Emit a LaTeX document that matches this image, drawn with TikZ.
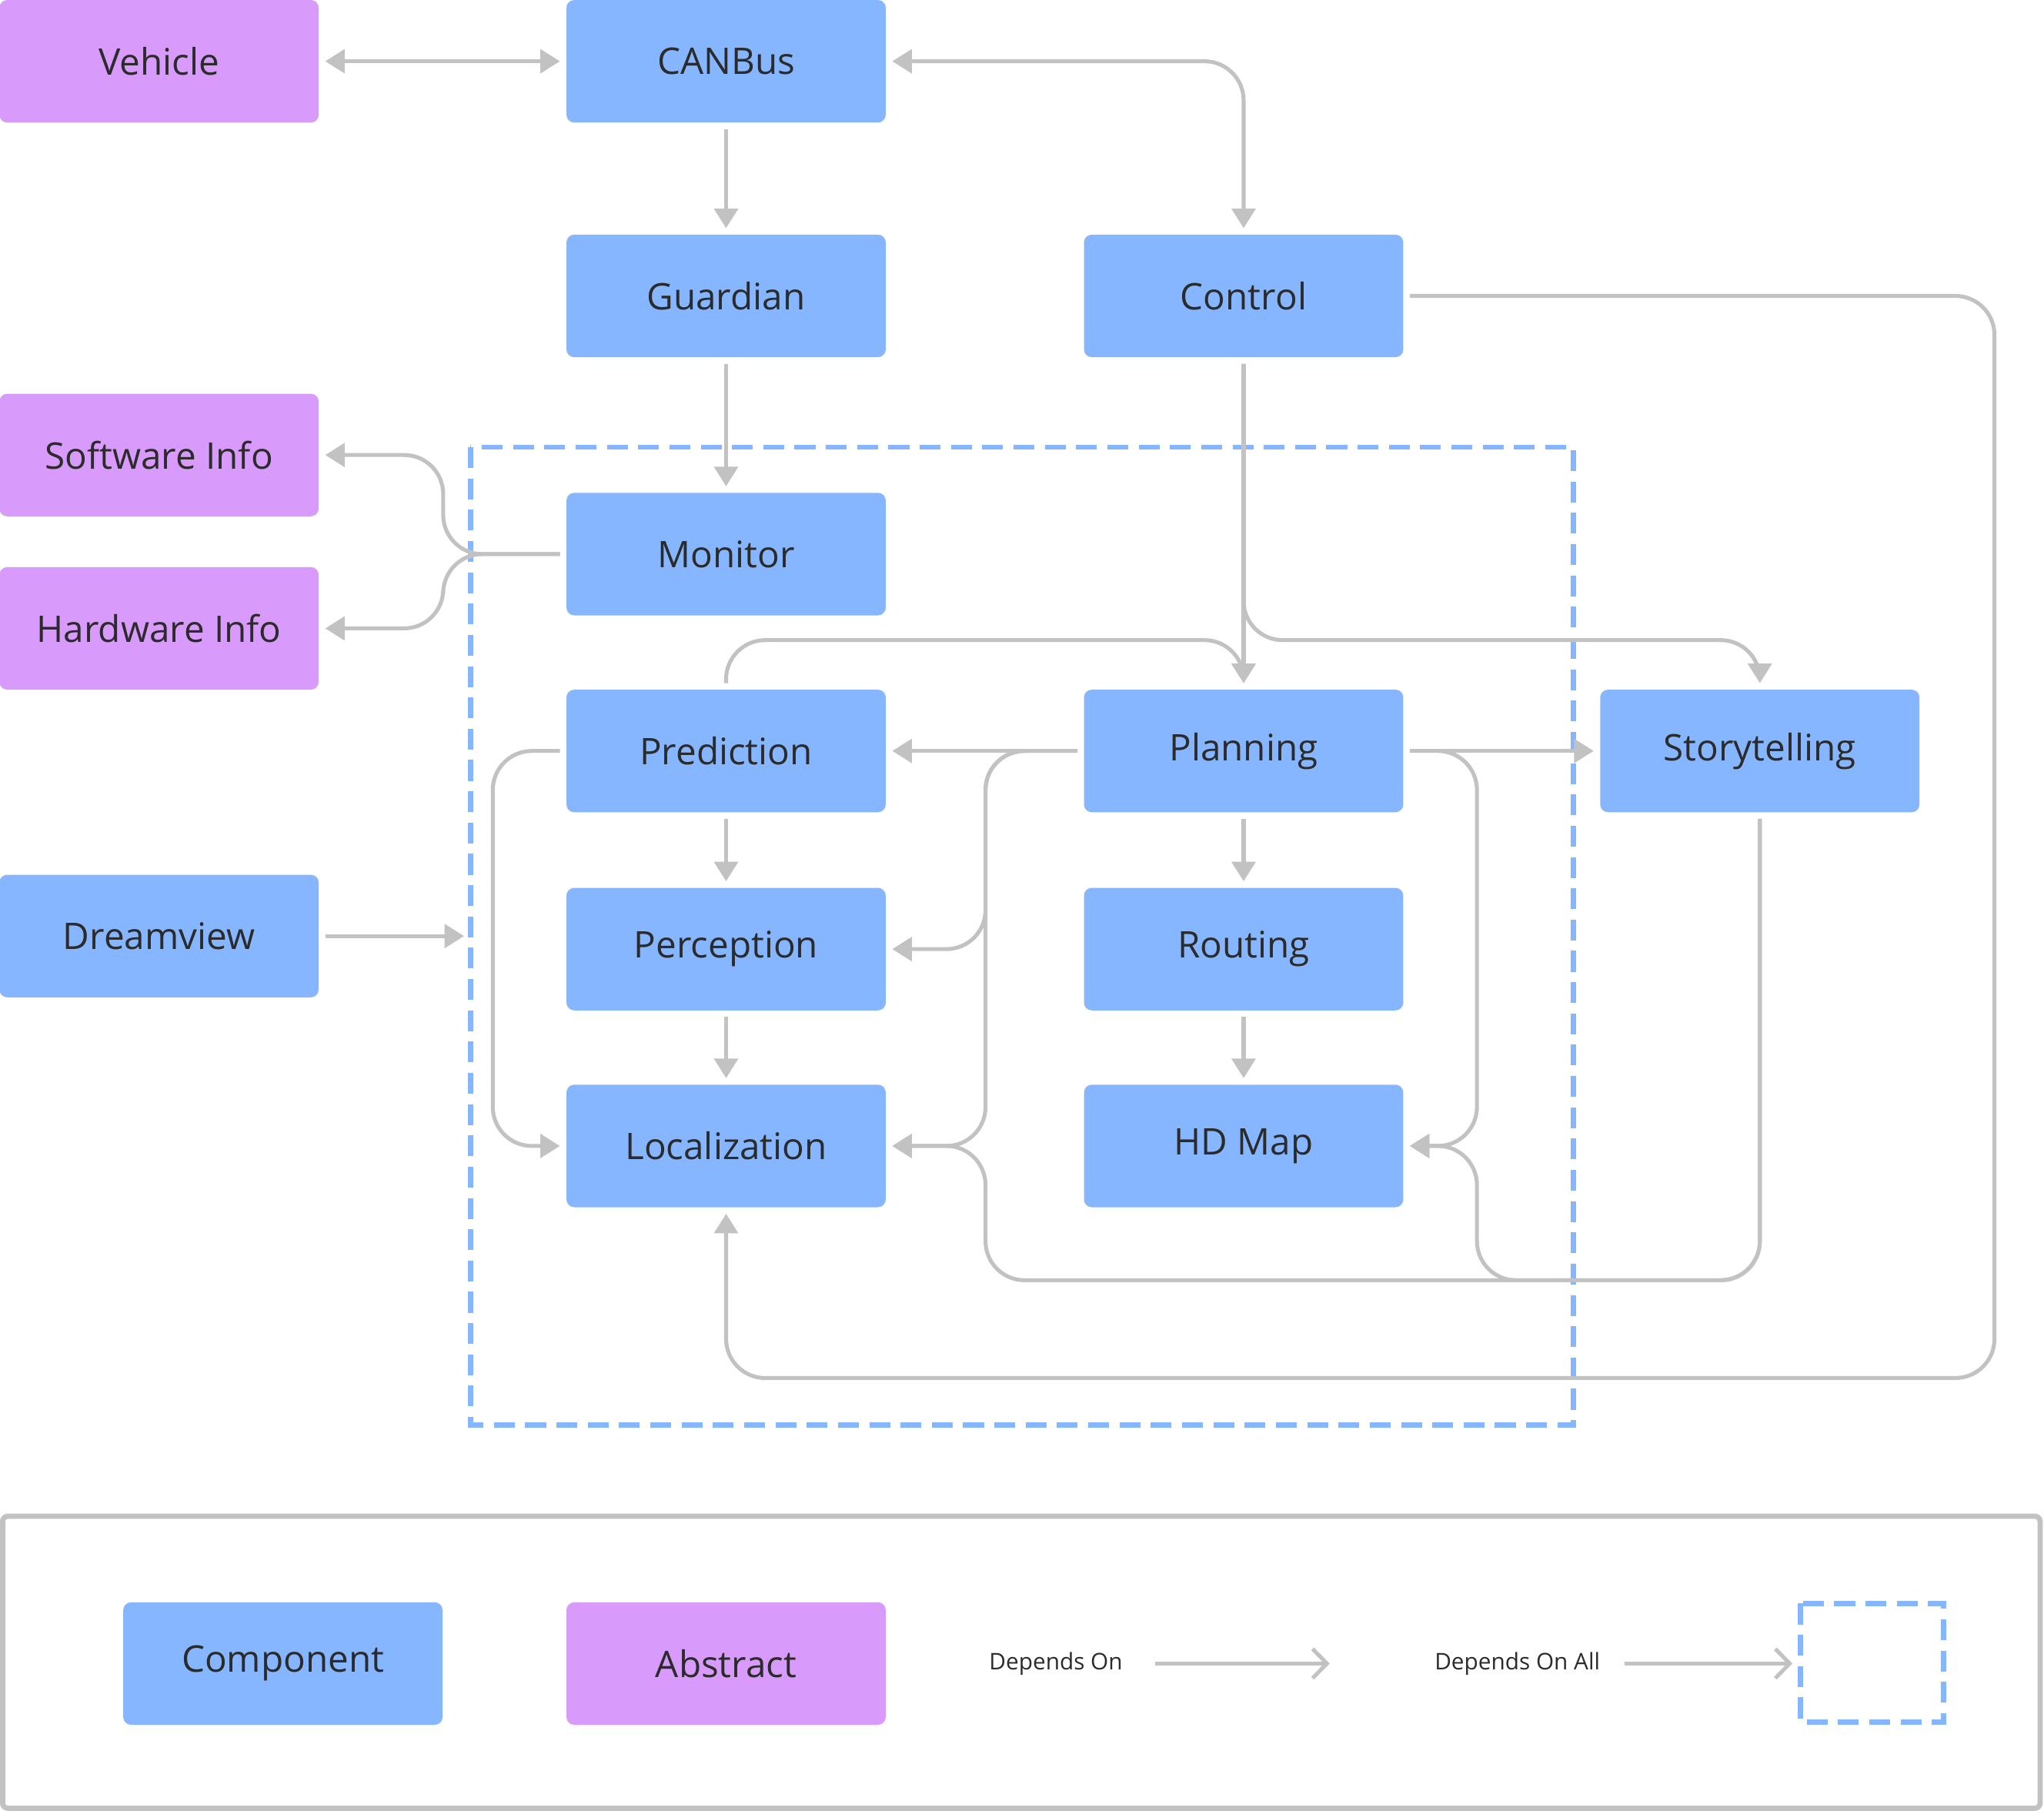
\documentclass[tikz,border=0pt]{standalone}
\usepackage{fontspec}
\setmainfont{Open Sans}
\usetikzlibrary{arrows.meta}
\definecolor{comp}{HTML}{86B6FF}
\definecolor{abst}{HTML}{D99BFB}
\definecolor{link}{HTML}{C2C2C2}
\definecolor{ink}{HTML}{2B2B2B}
\tikzset{
  box/.style={rounded corners=0.12cm, minimum width=4.9cm, minimum height=1.88cm,
    outer sep=0.1cm, text=ink, font=\fontsize{16}{19}\selectfont},
  component/.style={box, fill=comp},
  abstract/.style={box, fill=abst},
  dep/.style={draw=link, line width=0.06cm, rounded corners=0.6cm,
    -{Triangle[width=0.36cm,length=0.3cm]}},
  both/.style={{Triangle[width=0.36cm,length=0.3cm]}-{Triangle[width=0.36cm,length=0.3cm]}},
  legarrow/.style={draw=link, line width=0.06cm, -{Straight Barb[width=0.45cm,length=0.22cm]}},
  group/.style={draw=comp, line width=0.08cm, dash pattern=on 0.32cm off 0.16cm},
}
\begin{document}
\begin{tikzpicture}[x=0.02cm, y=-0.02cm]
  \useasboundingbox (0,0) rectangle (1568,1389);

  \draw[group] (361,343) rectangle (1207,1093);
  \coordinate (allwest) at (361,718);

  \node[abstract] (veh) at (122,47) {Vehicle};
  \node[component] (can) at (557,47) {CANBus};
  \node[component] (gua) at (557,227) {Guardian};
  \node[component] (ctl) at (954,227) {Control};
  \node[abstract] (sw) at (122,349) {Software Info};
  \node[abstract] (hw) at (122,482) {Hardware Info};
  \node[component] (mon) at (557,425) {Monitor};
  \node[component] (pre) at (557,576) {Prediction};
  \node[component] (pla) at (954,576) {Planning};
  \node[component] (sto) at (1350,576) {Storytelling};
  \node[component] (dre) at (122,718) {Dreamview};
  \node[component] (per) at (557,728) {Perception};
  \node[component] (rou) at (954,728) {Routing};
  \node[component] (loc) at (557,879) {Localization};
  \node[component] (hdm) at (954,879) {HD Map};

  \draw[dep,both] (veh) -- (can);
  \draw[dep,both] (can.east) -| (ctl.north);
  \draw[dep] (can) -- (gua);
  \draw[dep] (gua) -- (mon);
  \draw[dep] (mon.west) -- (340,425) |- (sw.east);
  \draw[dep] (mon.west) -- (340,425) |- (hw.east);
  \draw[dep] (ctl) -- (pla);
  \draw[dep] (ctl.south) -- (954,491) -| (sto.north);
  \draw[dep] (pre.north) |- (954,491) -- (pla.north);
  \draw[dep] (pla) -- (pre);
  \draw[dep] (pla.west) -- (756,576) |- (per.east);
  \draw[dep] (pla.west) -- (756,576) |- (loc.east);
  \draw[dep] (pla) -- (sto);
  \draw[dep] (pla.east) -- (1133,576) |- (hdm.east);
  \draw[dep] (pre) -- (per);
  \draw[dep] (per) -- (loc);
  \draw[dep] (pla) -- (rou);
  \draw[dep] (rou) -- (hdm);
  \draw[dep] (pre.west) -- (378,576) |- (loc.west);
  \draw[dep, shorten >=0.1cm] (dre.east) -- (allwest);
  \draw[dep] (sto.south) -- (1350,982) -- (756,982) |- (loc.east);
  \draw[dep] (sto.south) -- (1350,982) -- (1133,982) |- (hdm.east);
  \draw[dep] (ctl.east) -| (1530,1057) -| (loc.south);

  % legend
  \draw[link, line width=0.08cm, rounded corners=0.08cm] (2,1163) rectangle (1565,1387);
  \node[component] (lcomp) at (217,1276) {Component};
  \node[abstract] (labs) at (557,1276) {Abstract};
  \node[text=ink, font=\fontsize{10}{12}\selectfont] (ldep) at (810,1276) {Depends On};
  \coordinate (ldepend) at (1020,1276);
  \draw[legarrow] (886,1276) -- (ldepend);
  \node[text=ink, font=\fontsize{10}{12}\selectfont] (lall) at (1164,1276) {Depends On All};
  \draw[group] (1381,1230) rectangle (1491,1321);
  \coordinate (lallend) at (1375,1276);
  \draw[legarrow] (1246,1276) -- (lallend);
\end{tikzpicture}
\end{document}
